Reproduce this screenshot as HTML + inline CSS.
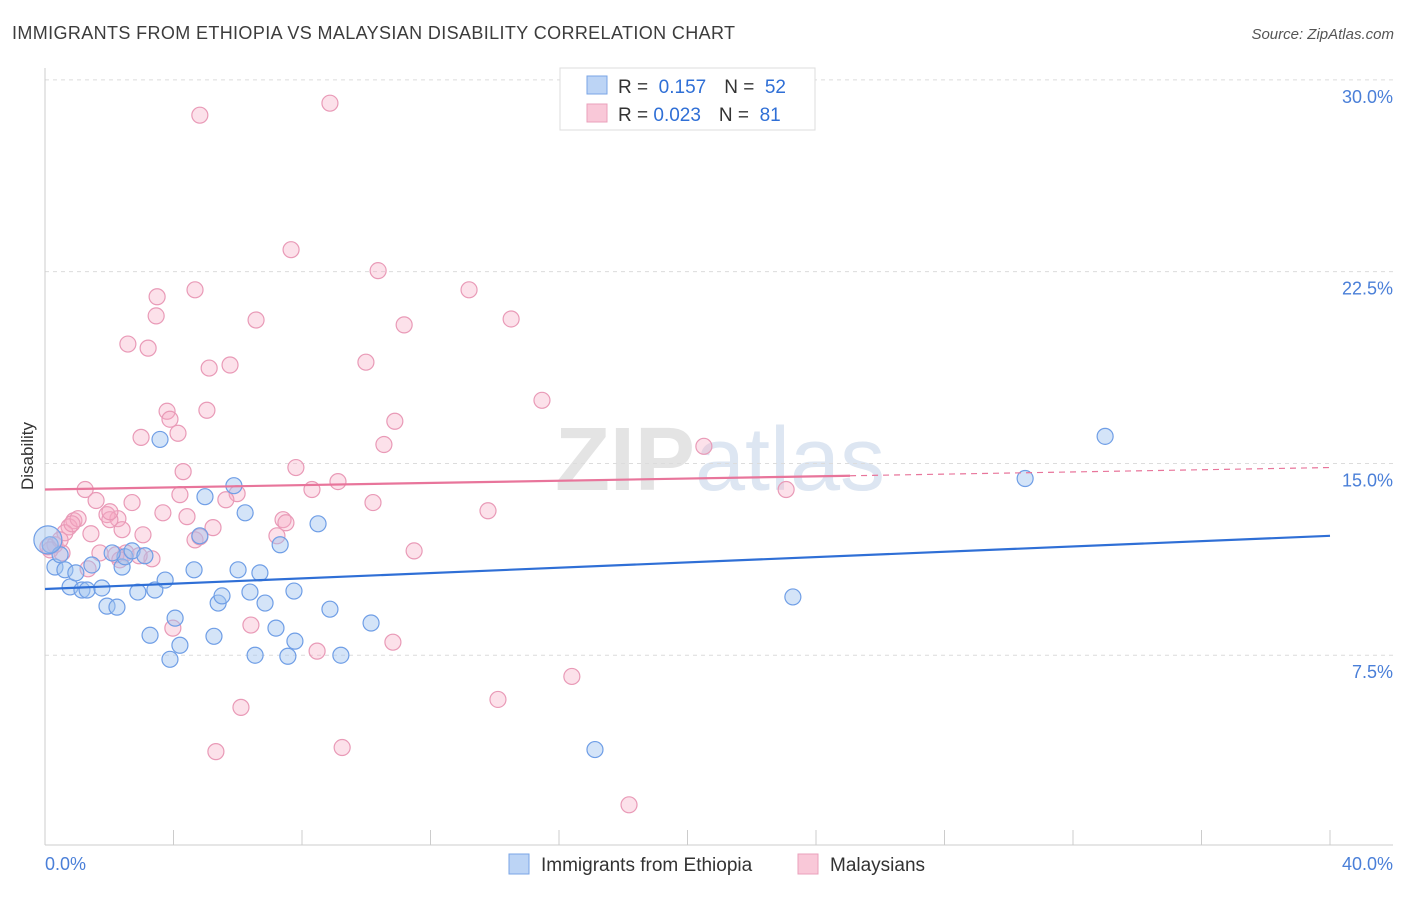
<!DOCTYPE html>
<html><head><meta charset="utf-8"><style>
body{margin:0;background:#fff;font-family:"Liberation Sans",sans-serif;}
svg text{font-family:"Liberation Sans",sans-serif;}
</style></head><body>
<svg id="chart" width="1406" height="892" viewBox="0 0 1406 892" xmlns="http://www.w3.org/2000/svg">
<text x="12" y="39" font-size="18" fill="#3c3c3c" textLength="723" lengthAdjust="spacing">IMMIGRANTS FROM ETHIOPIA VS MALAYSIAN DISABILITY CORRELATION CHART</text>
<text x="1394" y="39" font-size="15" fill="#555" font-style="italic" text-anchor="end">Source: ZipAtlas.com</text>
<text x="720" y="490" font-size="90" fill="#e4e4e4" text-anchor="middle" font-family="Liberation Serif"><tspan font-weight="bold">ZIP</tspan><tspan fill="#dde6f2" font-family="Liberation Sans">atlas</tspan></text>
<g id="grid"></g>
<g id="axes"></g>
<g id="points"></g>
<g id="trends"></g>
<text transform="translate(33,456) rotate(-90)" font-size="17" fill="#333" text-anchor="middle">Disability</text>
<text x="45" y="870" font-size="18" fill="#4a7fd8">0.0%</text>
<text x="1393" y="870" font-size="18" fill="#4a7fd8" text-anchor="end">40.0%</text>
<g>
<rect x="560" y="68" width="255" height="62" fill="#fff" stroke="#ddd"/>
<rect x="587" y="76" width="20" height="18" fill="#bcd4f5" stroke="#7aa5e6"/>
<rect x="587" y="104" width="20" height="18" fill="#f9c8d8" stroke="#eaa0bb"/>
<text x="618" y="93" font-size="19" fill="#333">R = <tspan fill="#2f6fd6">&#160;0.157</tspan><tspan dx="18" fill="#333">N = </tspan><tspan fill="#2f6fd6">&#160;52</tspan></text>
<text x="618" y="121" font-size="19" fill="#333">R = <tspan fill="#2f6fd6">0.023</tspan><tspan dx="18" fill="#333">N = </tspan><tspan fill="#2f6fd6">&#160;81</tspan></text>
</g>
<g>
<rect x="509" y="854" width="20" height="20" fill="#bcd4f5" stroke="#7aa5e6"/>
<text x="541" y="871" font-size="19" fill="#333">Immigrants from Ethiopia</text>
<rect x="798" y="854" width="20" height="20" fill="#f9c8d8" stroke="#eaa0bb"/>
<text x="830" y="871" font-size="19" fill="#333">Malaysians</text>
</g>
</svg>
<script>
const yTicks=[7.5,15,22.5,30];
const yTickLabels=["7.5%","15.0%","22.5%","30.0%"];
const xTicks=[0,4,8,12,16,20,24,28,32,36,40];
const blueX=[0.16,0.31,0.47,0.62,0.78,0.96,1.15,1.31,1.46,1.77,1.93,2.24,2.40,2.49,2.71,2.89,3.11,3.27,3.42,3.58,3.74,3.89,4.05,4.20,4.64,4.82,4.98,5.26,5.39,5.51,5.88,6.01,6.23,6.38,6.54,6.69,6.85,7.19,7.32,7.56,7.75,7.78,8.50,8.87,9.21,10.15,17.12,23.28,30.51,33.00,0.09,2.09];
const blueY=[11.82,10.95,11.43,10.84,10.17,10.72,10.05,10.05,11.03,10.13,9.42,9.38,10.95,11.35,11.58,9.97,11.39,8.28,10.05,15.94,10.44,7.34,8.95,7.89,10.84,12.17,13.70,8.24,9.54,9.82,14.13,10.84,13.07,9.97,7.50,10.72,9.54,8.56,11.82,7.46,10.01,8.05,12.64,9.30,7.50,8.76,3.81,9.78,14.41,16.06,12.01,11.50];
const pinkX=[4.82,8.87,7.66,10.37,13.20,4.67,3.49,3.46,6.57,11.18,14.51,2.58,3.21,5.11,5.76,9.99,15.47,3.80,5.04,3.89,2.99,4.14,10.89,10.55,20.51,4.30,7.81,1.25,4.20,5.98,9.12,8.31,1.59,2.71,10.21,23.07,5.63,3.67,4.42,13.79,0.90,1.93,2.27,2.02,7.41,7.50,0.75,1.43,2.40,5.23,3.05,7.22,4.67,0.62,0.31,0.09,0.53,1.71,2.52,3.33,11.49,1.34,2.21,3.98,6.41,8.47,10.83,16.40,14.10,6.10,5.32,9.25,18.18,0.47,0.16,1.03,2.02,2.93,2.33,4.82,0.84];
const pinkY=[28.62,29.09,23.36,22.54,21.79,21.79,21.52,20.77,20.61,20.42,20.65,19.67,19.51,18.73,18.85,18.96,17.47,17.04,17.08,16.73,16.02,16.18,16.65,15.74,15.67,14.68,14.84,13.98,13.78,13.82,14.29,13.98,13.55,13.47,13.47,13.98,13.58,13.07,12.92,13.15,12.76,13.00,12.84,12.80,12.80,12.68,12.52,12.25,12.41,12.49,12.21,12.17,12.01,12.29,11.82,11.74,11.50,11.50,11.50,11.27,11.58,10.88,11.43,8.56,8.68,7.66,8.01,6.67,5.77,5.46,3.73,3.89,1.65,12.01,11.62,12.84,13.11,11.39,11.23,12.13,12.64];
const blueTrend=[10.09,12.17];
const pinkTrend=[13.98,14.84];
const pinkSolidEnd=25.06;
const NS="http://www.w3.org/2000/svg";
const X=v=>45+v/40*1285;
const Y=v=>847-v*25.57;
function mk(tag,attrs,parent){const e=document.createElementNS(NS,tag);for(const k in attrs)e.setAttribute(k,attrs[k]);parent.appendChild(e);return e;}
const grid=document.getElementById('grid'),axes=document.getElementById('axes'),pts=document.getElementById('points'),tr=document.getElementById('trends');
yTicks.forEach((t,i)=>{
 const l=mk('line',{x1:45,x2:1393,y1:Y(t),y2:Y(t),stroke:'#dcdcdc','stroke-dasharray':'4,4'},grid);
 
 
 const tx=mk('text',{x:1393,y:Y(t)+23,'font-size':18,fill:'#4a7fd8','text-anchor':'end'},grid);
 tx.textContent=yTickLabels[i];
 
 
});
const ax=mk('line',{x1:45,x2:45,y1:68,y2:845,stroke:'#ccc'},axes);


const bx=mk('line',{x1:45,x2:1393,y1:845,y2:845,stroke:'#ccc'},axes);


xTicks.forEach(t=>{
 const l=mk('line',{x1:X(t),x2:X(t),y1:830,y2:845,stroke:'#ccc'},axes);
 
 
});
pinkX.forEach((x,i)=>{
 const c=mk('circle',{cx:X(x),cy:Y(pinkY[i]),r:8,fill:'rgba(245,170,196,0.35)',stroke:'#e99ab7','stroke-width':1.2},pts);
 
 
});
blueX.forEach((x,i)=>{
 const c=mk('circle',{cx:X(x),cy:Y(blueY[i]),r:(i==50?14:8),fill:'rgba(160,196,240,0.45)',stroke:'#6f9ee6','stroke-width':1.2},pts);
 
 
});
const bt=mk('line',{x1:X(0),x2:X(40),y1:Y(blueTrend[0]),y2:Y(blueTrend[1]),stroke:'#2f6fd6','stroke-width':2.2},tr);


const pm=pinkTrend[0]+(pinkTrend[1]-pinkTrend[0])*pinkSolidEnd/40;
const ps=mk('line',{x1:X(0),x2:X(pinkSolidEnd),y1:Y(pinkTrend[0]),y2:Y(pm),stroke:'#e8759b','stroke-width':2.2},tr);


const pd=mk('line',{x1:X(pinkSolidEnd),x2:X(40),y1:Y(pm),y2:Y(pinkTrend[1]),stroke:'#e8759b','stroke-width':1.2,'stroke-dasharray':'6,5'},tr);


</script>
</body></html>
